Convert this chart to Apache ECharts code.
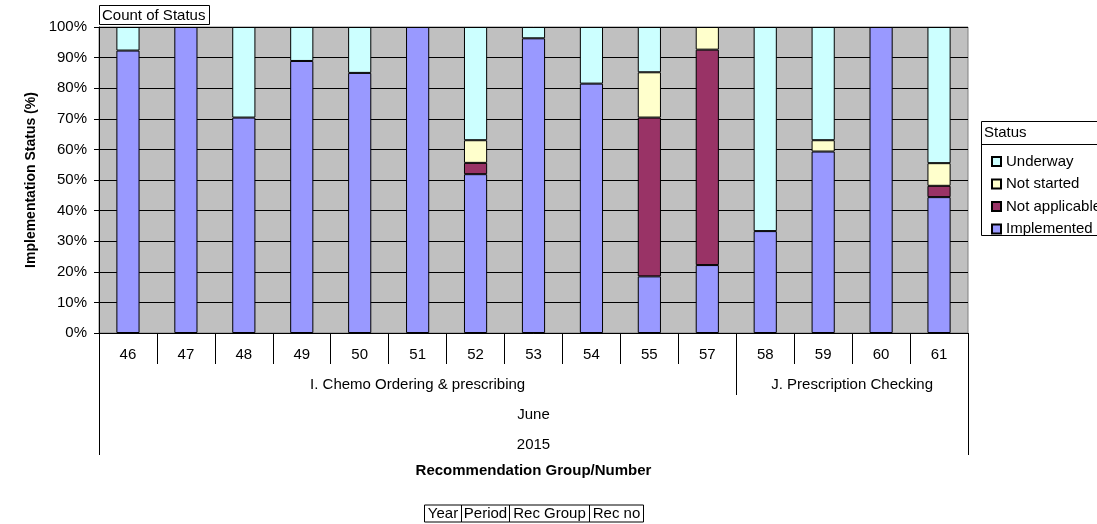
<!DOCTYPE html>
<html><head><meta charset="utf-8">
<script src="https://cdn.jsdelivr.net/npm/echarts@6/dist/echarts.min.js"></script>
<style>html,body{margin:0;padding:0;background:#fff}#c{width:1097px;height:524px}</style>
</head><body><div id="c"></div>
<script>
// ---- data ----
const recNumbers = ['46','47','48','49','50','51','52','53','54','55','57','58','59','60','61'];
const groupNames = ['I. Chemo Ordering & prescribing','J. Prescription Checking'];
const groupSizes = [11, 4];
const periods = ['June'];
const years = ['2015'];
const implemented   = [92.3,100,70.4,88.9,85,100,51.9,96.3,81.5,18.5,22.2,33.3,59.3,100,44.4];
const notApplicable = [0,0,0,0,0,0,3.7,0,0,51.9,70.4,0,0,0,3.7];
const notStarted    = [0,0,0,0,0,0,7.4,0,0,14.8,7.4,0,3.7,0,7.4];
const underway      = [7.7,0,29.6,11.1,15,0,37,3.7,18.5,14.8,0,66.7,37,0,44.5];
const legendTitle = 'Status';
const pivotTitle = 'Count of Status';
const fieldLabels = ['Year','Period','Rec Group','Rec no'];
const yAxisTitle = 'Implementation Status (%)';
const xAxisTitle = 'Recommendation Group/Number';

// ---- build ----
const FONT = "'Liberation Sans', Arial, sans-serif";
const black = {color:'#000', width:1};
const groupBounds = [0];
groupSizes.forEach(s => groupBounds.push(groupBounds[groupBounds.length-1] + s));
const groupCenters = groupSizes.map((s,i) => groupBounds[i] + s/2);
const total = groupBounds[groupBounds.length-1];
const catBounds = recNumbers.map((_,i)=>i).concat([recNumbers.length]);

const chart = echarts.init(document.getElementById('c'), null, {renderer:'canvas'});
const nz = a => a.map(v => v === 0 ? '-' : v);
function bar(name, data, color){
  return {name, type:'bar', stack:'s', barWidth:'40%', data:nz(data), xAxisIndex:0,
    itemStyle:{color, borderColor:'#000', borderWidth:1}, emphasis:{disabled:true}};
}
const cellWidths = [37,48,80,54];
const tableX = 424.5, tableY = 505, tableH = 17;
const tableEls = [];
let cx = tableX;
fieldLabels.forEach((t,i)=>{
  tableEls.push({type:'rect', shape:{x:cx, y:tableY, width:cellWidths[i], height:tableH},
    style:{fill:'#fff', stroke:'#000', lineWidth:1}});
  tableEls.push({type:'text', x:cx+cellWidths[i]/2, y:tableY+tableH/2+0.5,
    style:{text:t, font:'15px '+FONT, fill:'#000', align:'center', verticalAlign:'middle'}});
  cx += cellWidths[i];
});

const option = {
  animation:false,
  textStyle:{fontFamily:FONT},
  grid:{left:99, right:129, top:27, bottom:191, show:true, backgroundColor:'#C0C0C0',
        borderColor:'#808080', borderWidth:1, containLabel:false, outerBoundsMode:'none'},
  legend:{orient:'vertical', left:986, top:149, itemWidth:9, itemHeight:9, itemGap:7.5,
    icon:'rect', data:['Underway','Not started','Not applicable','Implemented'],
    textStyle:{fontSize:15, color:'#000', fontFamily:FONT}, selectedMode:false},
  xAxis:[
    {type:'category', data:recNumbers, position:'bottom',
     axisLine:{lineStyle:black}, axisTick:{show:true, interval:0, length:31, lineStyle:black},
     axisLabel:{interval:0, margin:14, fontSize:15, color:'#000', fontFamily:FONT},
     name:xAxisTitle, nameLocation:'middle', nameGap:130,
     nameTextStyle:{fontWeight:'bold', fontSize:15, color:'#000', fontFamily:FONT}},
    {type:'value', min:0, max:total, position:'bottom', axisLine:{show:false}, splitLine:{show:false},
     axisTick:{show:true, length:31, customValues:catBounds, lineStyle:black},
     axisLabel:{show:false}},
    {type:'value', min:0, max:total, position:'bottom', axisLine:{show:false}, splitLine:{show:false},
     axisTick:{show:true, length:62, customValues:groupBounds, lineStyle:black},
     axisLabel:{customValues:groupCenters, margin:44, fontSize:15, color:'#000', fontFamily:FONT,
       formatter:v=>{const i=groupCenters.indexOf(v); return i>=0?groupNames[i]:'';}}},
    {type:'value', min:0, max:total, position:'bottom', axisLine:{show:false}, splitLine:{show:false},
     axisTick:{show:true, length:122, customValues:[0,total], lineStyle:black},
     axisLabel:{customValues:[total/2], margin:74, fontSize:15, color:'#000', fontFamily:FONT,
       formatter:()=>periods[0]}},
    {type:'value', min:0, max:total, position:'bottom', axisLine:{show:false}, splitLine:{show:false},
     axisTick:{show:false},
     axisLabel:{customValues:[total/2], margin:104, fontSize:15, color:'#000', fontFamily:FONT,
       formatter:()=>years[0]}}
  ],
  yAxis:{type:'value', min:0, max:100, interval:10,
    axisLine:{show:true, lineStyle:black}, axisTick:{show:true, length:5, lineStyle:black},
    axisLabel:{formatter:'{value}%', margin:12, fontSize:15, color:'#000', fontFamily:FONT},
    splitLine:{show:true, lineStyle:black},
    name:yAxisTitle, nameLocation:'middle', nameGap:56,
    nameTextStyle:{fontWeight:'bold', fontSize:14, color:'#000', fontFamily:FONT}},
  series:[
    bar('Implemented', implemented, '#9999FF'),
    bar('Not applicable', notApplicable, '#993366'),
    bar('Not started', notStarted, '#FFFFCC'),
    bar('Underway', underway, '#CCFFFF')
  ],
  graphic:[
    {type:'rect', shape:{x:99.5, y:5.5, width:110, height:19}, style:{fill:'#fff', stroke:'#000', lineWidth:1}},
    {type:'text', x:102, y:15.5, style:{text:pivotTitle, font:'15px '+FONT, fill:'#000', verticalAlign:'middle'}},
    {type:'rect', shape:{x:981.5, y:121.5, width:130, height:114}, style:{fill:'#fff', stroke:'#000', lineWidth:1}, z:-1},
    {type:'line', shape:{x1:981.5, y1:144.5, x2:1097, y2:144.5}, style:{stroke:'#000', lineWidth:1}},
    {type:'text', x:984, y:133, style:{text:legendTitle, font:'15px '+FONT, fill:'#000', verticalAlign:'middle'}},
    ...tableEls
  ]
};
chart.setOption(option);
</script>
</body></html>
